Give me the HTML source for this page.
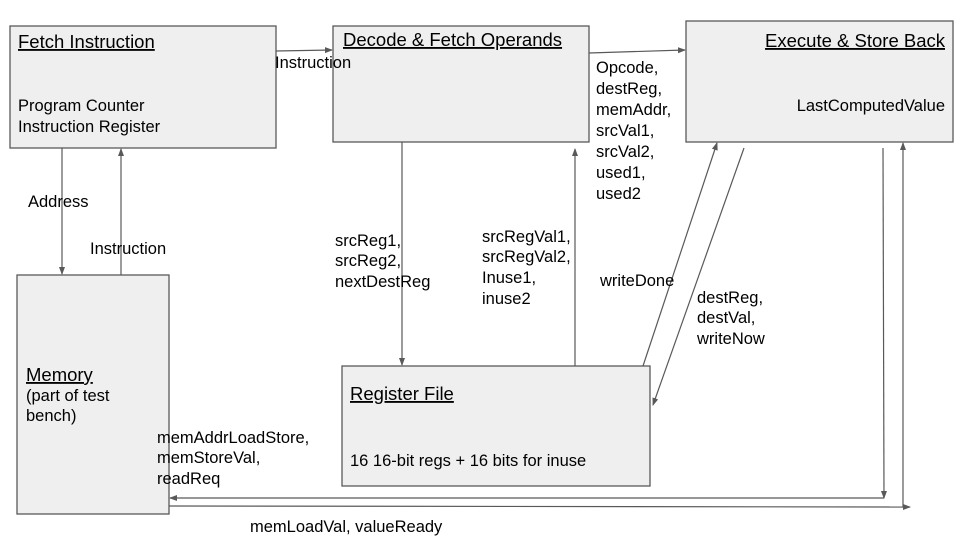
<!DOCTYPE html>
<html><head><meta charset="utf-8"><style>
body{margin:0;background:#fff;}
svg text{font-family:"Liberation Sans",sans-serif;font-size:16.5px;fill:#000;}
.t{font-size:18.5px;text-decoration:underline;}
</style></head><body>
<svg width="960" height="540" viewBox="0 0 960 540" xmlns="http://www.w3.org/2000/svg">
<defs><marker id="a" markerWidth="8" markerHeight="8" refX="7" refY="4" orient="auto" markerUnits="userSpaceOnUse"><path d="M0,1 L8,4 L0,7 z" fill="#595959"/></marker></defs>
<g fill="#efefef" stroke="#595959" stroke-width="1.3">
<rect x="10" y="26" width="266" height="122"/>
<rect x="333" y="26" width="256" height="116"/>
<rect x="686" y="21" width="267" height="121"/>
<rect x="17" y="275" width="152" height="239"/>
<rect x="342" y="366" width="308" height="120"/>
</g>
<g stroke="#595959" stroke-width="1.2" fill="none">
<line x1="276" y1="51" x2="332" y2="50" marker-end="url(#a)"/>
<line x1="589" y1="53" x2="685" y2="50" marker-end="url(#a)"/>
<line x1="62" y1="148" x2="62" y2="274" marker-end="url(#a)"/>
<line x1="121" y1="275" x2="121" y2="149" marker-end="url(#a)"/>
<line x1="402" y1="142" x2="402" y2="365" marker-end="url(#a)"/>
<line x1="575" y1="366" x2="575" y2="149" marker-end="url(#a)"/>
<line x1="643" y1="366" x2="717" y2="143" marker-end="url(#a)"/>
<line x1="744" y1="148" x2="653" y2="405" marker-end="url(#a)"/>
<line x1="883" y1="148" x2="884" y2="498" marker-end="url(#a)"/>
<line x1="884" y1="498" x2="170" y2="498" marker-end="url(#a)"/>
<line x1="169" y1="506" x2="910" y2="507" marker-end="url(#a)"/>
<line x1="903" y1="507" x2="903" y2="143" marker-end="url(#a)"/>
</g>
<text class="t" x="18" y="48">Fetch Instruction</text>
<text x="18" y="111">Program Counter</text>
<text x="18" y="132">Instruction Register</text>
<text class="t" x="343" y="46">Decode &amp; Fetch Operands</text>
<text class="t" x="945" y="47" text-anchor="end">Execute &amp; Store Back</text>
<text x="945" y="111" text-anchor="end">LastComputedValue</text>
<text class="t" x="26" y="381">Memory</text>
<text x="26" y="401">(part of test</text>
<text x="26" y="421">bench)</text>
<text class="t" x="350" y="400">Register File</text>
<text x="350" y="466">16 16-bit regs + 16 bits for inuse</text>
<text x="275" y="68">Instruction</text>
<text x="28" y="207">Address</text>
<text x="90" y="254">Instruction</text>
<text x="335" y="246">srcReg1,</text>
<text x="335" y="266">srcReg2,</text>
<text x="335" y="287">nextDestReg</text>
<text x="482" y="242">srcRegVal1,</text>
<text x="482" y="262">srcRegVal2,</text>
<text x="482" y="283">Inuse1,</text>
<text x="482" y="304">inuse2</text>
<text x="596" y="73">Opcode,</text>
<text x="596" y="94">destReg,</text>
<text x="596" y="115">memAddr,</text>
<text x="596" y="136">srcVal1,</text>
<text x="596" y="157">srcVal2,</text>
<text x="596" y="178">used1,</text>
<text x="596" y="199">used2</text>
<text x="600" y="286">writeDone</text>
<text x="697" y="303">destReg,</text>
<text x="697" y="323">destVal,</text>
<text x="697" y="344">writeNow</text>
<text x="157" y="443">memAddrLoadStore,</text>
<text x="157" y="463">memStoreVal,</text>
<text x="157" y="484">readReq</text>
<text x="250" y="532">memLoadVal, valueReady</text>
</svg>
</body></html>
